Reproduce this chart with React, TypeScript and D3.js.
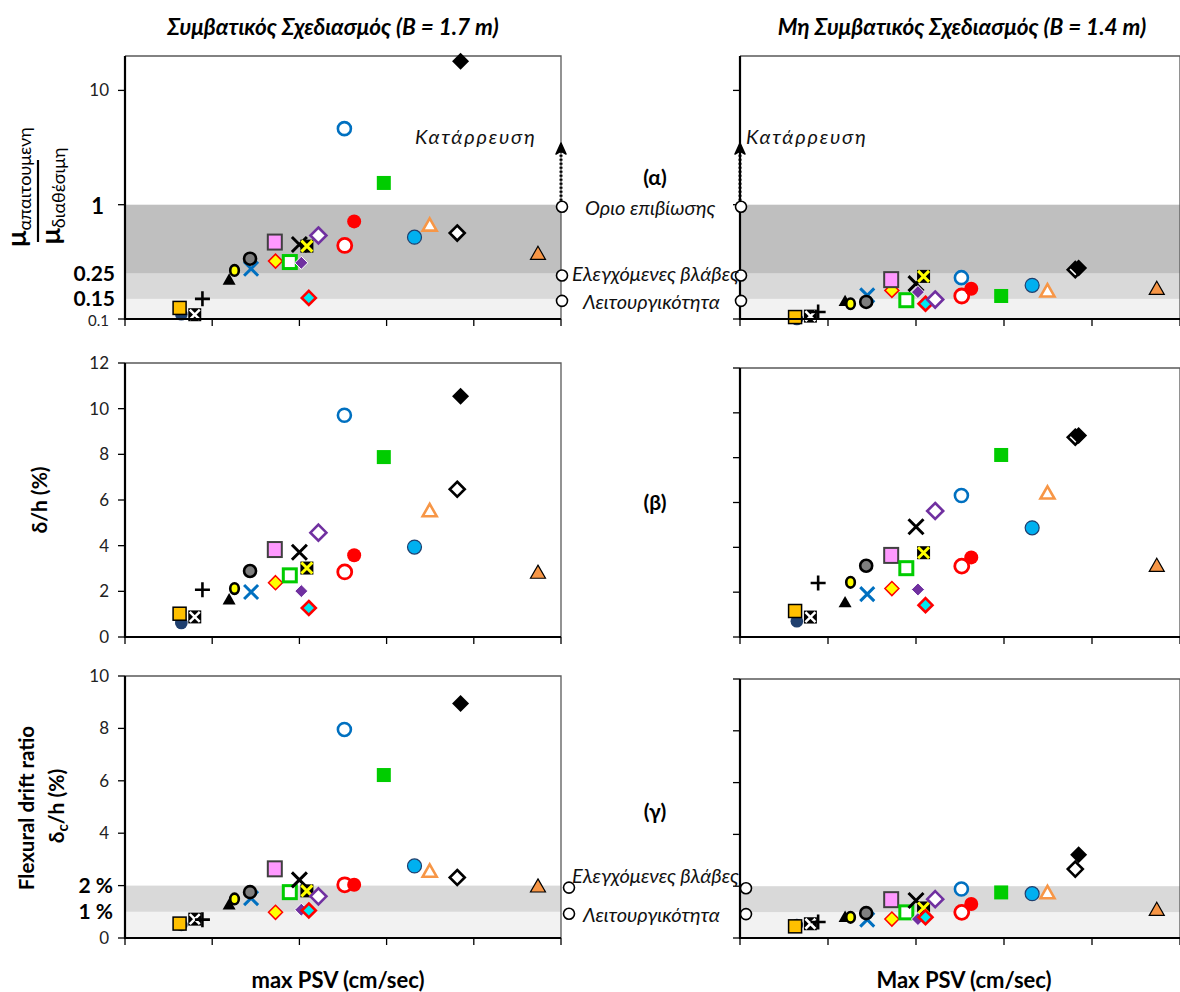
import React from "react";
import * as d3 from "d3";

// ground motion records: marker style per record (same order in every array)
const markerKinds = [
  "navyCircle", "goldSquare", "boxX", "plus", "blackTriangle", "yellowCircle",
  "blueX", "grayCircle", "yellowDiamond", "pinkSquare", "greenOpenSquare", "blackX",
  "yellowBoxX", "purpleDiamond", "cyanDiamond", "purpleOpenDiamond", "blueOpenCircle",
  "redOpenCircle", "redCircle", "greenSquare", "lightBlueCircle", "orangeOpenTriangle",
  "blackOpenDiamond", "blackDiamond", "orangeTriangle",
];

// max PSV (cm/sec)
const psv = [32.3, 31.3, 40, 44.4, 59.7, 62.8, 72.3, 71.7, 86.3, 85.9, 94.5, 100, 104.3, 101.1, 105.4, 110.9, 125.8, 126, 131.4, 148.4, 166, 174.7, 190.5, 192.4, 236.8];

// μ required / μ available
const muConv = [0.11, 0.125, 0.109, 0.15, 0.22, 0.266, 0.275, 0.337, 0.321, 0.471, 0.315, 0.449, 0.434, 0.31, 0.153, 0.538, 4.63, 0.44, 0.714, 1.55, 0.52, 0.66, 0.565, 18, 0.372];
const muNonConv = [0.1, 0.104, 0.106, 0.115, 0.143, 0.136, 0.161, 0.141, 0.178, 0.221, 0.146, 0.204, 0.236, 0.172, 0.136, 0.148, 0.23, 0.159, 0.184, 0.159, 0.197, 0.175, 0.27, 0.28, 0.184];

// δ/h (%)
const driftConv = [0.61, 1.02, 0.88, 2.07, 1.64, 2.12, 1.97, 2.89, 2.38, 3.83, 2.7, 3.71, 3.02, 2.01, 1.27, 4.57, 9.71, 2.85, 3.58, 7.88, 3.94, 5.52, 6.47, 10.54, 2.82];
const driftNonConv = [0.7, 1.16, 0.89, 2.41, 1.54, 2.44, 1.91, 3.18, 2.16, 3.64, 3.07, 4.92, 3.76, 2.12, 1.42, 5.62, 6.31, 3.16, 3.55, 8.12, 4.87, 6.41, 8.91, 8.99, 3.18];

// δc/h (%)
const flexConv = [0.5, 0.55, 0.72, 0.7, 1.27, 1.49, 1.52, 1.75, 0.98, 2.64, 1.75, 2.22, 1.8, 1.08, 1.05, 1.59, 7.96, 2.03, 2.03, 6.22, 2.75, 2.54, 2.31, 8.95, 1.97];
const flexNonConv = [0.5, 0.45, 0.55, 0.62, 0.81, 0.8, 0.71, 0.96, 0.73, 1.48, 0.99, 1.45, 1.16, 0.73, 0.8, 1.5, 1.89, 0.99, 1.31, 1.76, 1.71, 1.74, 2.66, 3.21, 1.09];

const xTicks = [0, 50, 100, 150, 200, 250];
const muTicks = [0.1, 1, 10];
const muLimits = [1, 0.25, 0.15];
const driftTicks = [0, 2, 4, 6, 8, 10, 12];
const flexTicks = [0, 2, 4, 6, 8, 10];
const flexLimits = [2, 1];

const FONT = "Lato, 'Open Sans', sans-serif";

const diamond = (x, y, s) => `M${x},${y - s}L${x + s},${y}L${x},${y + s}L${x - s},${y}Z`;
const tri = (x, y, s) => `M${x},${y - s}L${x + s},${y + s * 0.75}L${x - s},${y + s * 0.75}Z`;
const cross = (x, y, s) => `M${x - s},${y - s}L${x + s},${y + s}M${x + s},${y - s}L${x - s},${y + s}`;

function Marker({ kind, x, y }) {
  switch (kind) {
    case "navyCircle":
      return <circle cx={x} cy={y} r={6.3} fill="#1f3f6e" />;
    case "goldSquare":
      return <rect x={x - 6.5} y={y - 6.5} width={13} height={13} fill="#ffc000" stroke="#000" strokeWidth={1.5} />;
    case "boxX":
      return (
        <g>
          <rect x={x - 6.5} y={y - 6.5} width={13} height={13} fill="#000" />
          <path d={cross(x, y, 5)} stroke="#fff" strokeWidth={2.5} />
        </g>
      );
    case "plus":
      return <path d={`M${x - 7.5},${y}H${x + 7.5}M${x},${y - 7.5}V${y + 7.5}`} stroke="#000" strokeWidth={2.6} />;
    case "blackTriangle":
      return <path d={tri(x, y, 6.5)} fill="#000" />;
    case "yellowCircle":
      return <ellipse cx={x} cy={y} rx={4.3} ry={5.3} fill="#ffff00" stroke="#000" strokeWidth={2.6} />;
    case "blueX":
      return <path d={cross(x, y, 7)} stroke="#0070c0" strokeWidth={3} />;
    case "grayCircle":
      return <circle cx={x} cy={y} r={6} fill="#7f7f7f" stroke="#000" strokeWidth={2.6} />;
    case "yellowDiamond":
      return <path d={diamond(x, y, 7)} fill="#ffff00" stroke="#ff0000" strokeWidth={1.5} />;
    case "pinkSquare":
      return <rect x={x - 7} y={y - 7.5} width={14} height={15} fill="#ff99ff" stroke="#404040" strokeWidth={2} />;
    case "greenOpenSquare":
      return <rect x={x - 6.5} y={y - 6.5} width={13} height={13} fill="#fff" stroke="#00cc00" strokeWidth={3} />;
    case "blackX":
      return <path d={cross(x, y, 7.5)} stroke="#000" strokeWidth={3} />;
    case "yellowBoxX":
      return (
        <g>
          <rect x={x - 6.5} y={y - 6.5} width={13} height={13} fill="#000" />
          <path d={cross(x, y, 5.5)} stroke="#ffff00" strokeWidth={3} />
        </g>
      );
    case "purpleDiamond":
      return <path d={diamond(x, y, 6.5)} fill="#7030a0" stroke="#fff" strokeWidth={1} />;
    case "cyanDiamond":
      return <path d={diamond(x, y, 7)} fill="#00e8f0" stroke="#ff0000" strokeWidth={2.6} />;
    case "purpleOpenDiamond":
      return <path d={diamond(x, y, 8)} fill="#fff" stroke="#7030a0" strokeWidth={2.6} />;
    case "blueOpenCircle":
      return <circle cx={x} cy={y} r={6.5} fill="#fff" stroke="#0070c0" strokeWidth={2.6} />;
    case "redOpenCircle":
      return <circle cx={x} cy={y} r={7} fill="#fff" stroke="#ff0000" strokeWidth={2.8} />;
    case "redCircle":
      return <circle cx={x} cy={y} r={7} fill="#ff0000" />;
    case "greenSquare":
      return <rect x={x - 7} y={y - 7} width={14} height={14} fill="#00cc00" />;
    case "lightBlueCircle":
      return <circle cx={x} cy={y} r={7} fill="#00b0f0" stroke="#1f3f6e" strokeWidth={1.2} />;
    case "orangeOpenTriangle":
      return <path d={tri(x, y, 7)} fill="#fff" stroke="#f79646" strokeWidth={2.6} />;
    case "blackOpenDiamond":
      return <path d={diamond(x, y, 7.5)} fill="#fff" stroke="#000" strokeWidth={2.6} />;
    case "blackDiamond":
      return <path d={diamond(x, y, 8.5)} fill="#000" />;
    case "orangeTriangle":
      return <path d={tri(x, y, 7.5)} fill="#f79646" stroke="#000" strokeWidth={1.2} />;
    default:
      return null;
  }
}

function Panel({ xs, ys, values, ticks, bands = [], labels = null }) {
  const [xa, xb] = xs.range();
  const [yb, ya] = ys.range();
  return (
    <g>
      {bands.map((b, i) => (
        <rect key={i} x={xa} width={xb - xa} y={ys(b.hi)} height={ys(b.lo) - ys(b.hi)} fill={b.color} />
      ))}
      <path d={`M${xa},${ya}H${xb}V${yb}`} fill="none" stroke="#595959" strokeWidth={1.3} />
      {values.map((v, i) => (
        <Marker key={i} kind={markerKinds[i]} x={xs(psv[i])} y={ys(v)} />
      ))}
      <path d={`M${xa},${ya}V${yb}H${xb}`} fill="none" stroke="#000" strokeWidth={2.2} />
      {ticks.map((t) => (
        <line key={"y" + t} x1={xa - 7} x2={xa} y1={ys(t)} y2={ys(t)} stroke="#000" strokeWidth={1.3} />
      ))}
      {xTicks.map((t) => (
        <line key={"x" + t} x1={xs(t)} x2={xs(t)} y1={yb} y2={yb + 7} stroke="#000" strokeWidth={1.3} />
      ))}
      {labels &&
        ticks.map((t) => (
          <text key={"l" + t} x={xa - 16} y={ys(t)} dy="0.35em" textAnchor="end" fontSize={17} fill="#222">
            {labels(t)}
          </text>
        ))}
    </g>
  );
}

function EdgeCircles({ x, ys, values }) {
  return (
    <g>
      {values.map((v) => (
        <circle key={v} cx={x} cy={ys(v) + 2} r={5.5} fill="#fff" stroke="#000" strokeWidth={1.6} />
      ))}
    </g>
  );
}

function Arrow({ x, y0, y1 }) {
  return (
    <g>
      <line x1={x} x2={x} y1={y0} y2={y1 + 6} stroke="#000" strokeWidth={3} strokeDasharray="2 2" />
      <path d={`M${x},${y1}L${x + 5},${y1 + 11}L${x},${y1 + 8}L${x - 5},${y1 + 11}Z`} fill="#000" stroke="#000" strokeWidth={1.5} strokeLinejoin="round" />
    </g>
  );
}

export default function App() {
  const xL = d3.scaleLinear().domain([0, 250]).range([125, 561]);
  const xR = d3.scaleLinear().domain([0, 250]).range([740, 1180]);

  const muL = d3.scaleLog().domain([0.1, 20]).range([319, 56]);
  const muR = d3.scaleLog().domain([0.1, 20]).range([319, 56]);
  const drL = d3.scaleLinear().domain([0, 12]).range([637, 363]);
  const drR = d3.scaleLinear().domain([0, 12]).range([637, 368]);
  const fxL = d3.scaleLinear().domain([0, 10]).range([938, 676]);
  const fxR = d3.scaleLinear().domain([0, 10]).range([938, 679]);

  const muBands = [
    { lo: 0.1, hi: 0.15, color: "#f2f2f2" },
    { lo: 0.15, hi: 0.25, color: "#d9d9d9" },
    { lo: 0.25, hi: 1, color: "#bfbfbf" },
  ];
  const fxBands = [
    { lo: 0, hi: 1, color: "#f2f2f2" },
    { lo: 1, hi: 2, color: "#d9d9d9" },
  ];

  const italic = { fontStyle: "italic", fontSize: 20, fill: "#111" };
  const bold = { fontWeight: 700, fill: "#000" };

  return (
    <svg width={1180} height={992} style={{ position: "absolute", left: 0, top: 0, background: "#fff" }} fontFamily={FONT}>
      <rect width={1180} height={992} fill="#fff" />

      {/* titles */}
      <text x={333} y={27} dy="0.35em" textAnchor="middle" fontSize={22.5} fontStyle="italic" {...bold}>
        Συμβατικός Σχεδιασμός (B = 1.7 m)
      </text>
      <text x={962} y={27} dy="0.35em" textAnchor="middle" fontSize={22.5} fontStyle="italic" {...bold}>
        Μη Συμβατικός Σχεδιασμός (B = 1.4 m)
      </text>

      {/* (α) ductility demand ratio */}
      <Panel xs={xL} ys={muL} values={muConv} ticks={muTicks} bands={muBands} />
      <Panel xs={xR} ys={muR} values={muNonConv} ticks={muTicks} bands={muBands} />
      <text x={109} y={muL(10)} dy="0.35em" textAnchor="end" fontSize={17} fill="#222">10</text>
      <text x={109} y={muL(0.1) + 2} dy="0.35em" textAnchor="end" fontSize={15} fill="#222">0.1</text>
      <text x={104} y={muL(1) + 2} dy="0.35em" textAnchor="end" fontSize={22} {...bold}>1</text>
      <text x={115} y={muL(0.25)} dy="0.35em" textAnchor="end" fontSize={21} {...bold}>0.25</text>
      <text x={115} y={muL(0.15)} dy="0.35em" textAnchor="end" fontSize={21} {...bold}>0.15</text>

      <Arrow x={561} y0={muL(1)} y1={143} />
      <Arrow x={740} y0={muL(1)} y1={143} />
      <EdgeCircles x={562} ys={muL} values={muLimits} />
      <EdgeCircles x={741} ys={muR} values={muLimits} />
      <text x={415} y={137} dy="0.35em" letterSpacing={1.8} {...italic}>Κατάρρευση</text>
      <text x={746} y={137} dy="0.35em" letterSpacing={1.8} {...italic}>Κατάρρευση</text>
      <text x={585} y={muL(1) + 3} dy="0.35em" {...italic}>Οριο επιβίωσης</text>
      <text x={572} y={muL(0.25)} dy="0.35em" {...italic}>Ελεγχόμενες βλάβες</text>
      <text x={583} y={muL(0.15) + 3} dy="0.35em" {...italic}>Λειτουργικότητα</text>
      <text x={655} y={178} dy="0.35em" textAnchor="middle" fontSize={21} {...bold}>(α)</text>

      <g transform="translate(20,187) rotate(-90)">
        <text textAnchor="middle" dy="0.35em" {...bold}>
          <tspan fontSize={27}>μ</tspan>
          <tspan fontSize={18} fontWeight={400} dy={5}>απαιτουμενη</tspan>
        </text>
      </g>
      <line x1={38} x2={38} y1={160} y2={242} stroke="#000" strokeWidth={2.2} />
      <g transform="translate(54,196) rotate(-90)">
        <text textAnchor="middle" dy="0.35em" {...bold}>
          <tspan fontSize={27}>μ</tspan>
          <tspan fontSize={18} fontWeight={400} dy={5}>διαθέσιμη</tspan>
        </text>
      </g>

      {/* (β) drift ratio */}
      <Panel xs={xL} ys={drL} values={driftConv} ticks={driftTicks} labels={(t) => String(t)} />
      <Panel xs={xR} ys={drR} values={driftNonConv} ticks={driftTicks} />
      <text x={655} y={503} dy="0.35em" textAnchor="middle" fontSize={21} {...bold}>(β)</text>
      <text transform="translate(40,500) rotate(-90)" textAnchor="middle" dy="0.35em" fontSize={21} {...bold}>
        δ/h (%)
      </text>

      {/* (γ) flexural drift ratio */}
      <Panel xs={xL} ys={fxL} values={flexConv} ticks={flexTicks} bands={fxBands} />
      <Panel xs={xR} ys={fxR} values={flexNonConv} ticks={flexTicks} bands={fxBands} />
      {flexTicks.filter((t) => t !== 2).map((t) => (
        <text key={t} x={109} y={fxL(t)} dy="0.35em" textAnchor="end" fontSize={17} fill="#222">{t}</text>
      ))}
      <text x={113} y={fxL(2)} dy="0.35em" textAnchor="end" fontSize={21} {...bold}>2 %</text>
      <text x={113} y={fxL(1)} dy="0.35em" textAnchor="end" fontSize={21} {...bold}>1 %</text>
      <EdgeCircles x={569} ys={fxL} values={flexLimits} />
      <EdgeCircles x={746} ys={fxR} values={flexLimits} />
      <text x={572} y={876} dy="0.35em" {...italic}>Ελεγχόμενες βλάβες</text>
      <text x={583} y={915} dy="0.35em" {...italic}>Λειτουργικότητα</text>
      <text x={655} y={812} dy="0.35em" textAnchor="middle" fontSize={21} {...bold}>(γ)</text>
      <text transform="translate(27,808) rotate(-90)" textAnchor="middle" dy="0.35em" fontSize={20.5} {...bold}>
        Flexural drift ratio
      </text>
      <text transform="translate(57,806) rotate(-90)" textAnchor="middle" dy="0.35em" fontSize={21} {...bold}>
        δ<tspan fontSize={15} dy={4}>c</tspan>
        <tspan dy={-4}>/h (%)</tspan>
      </text>

      {/* x axis titles */}
      <text x={338} y={980} dy="0.35em" textAnchor="middle" fontSize={22} {...bold}>max PSV (cm/sec)</text>
      <text x={964} y={980} dy="0.35em" textAnchor="middle" fontSize={22} {...bold}>Max PSV (cm/sec)</text>
    </svg>
  );
}
